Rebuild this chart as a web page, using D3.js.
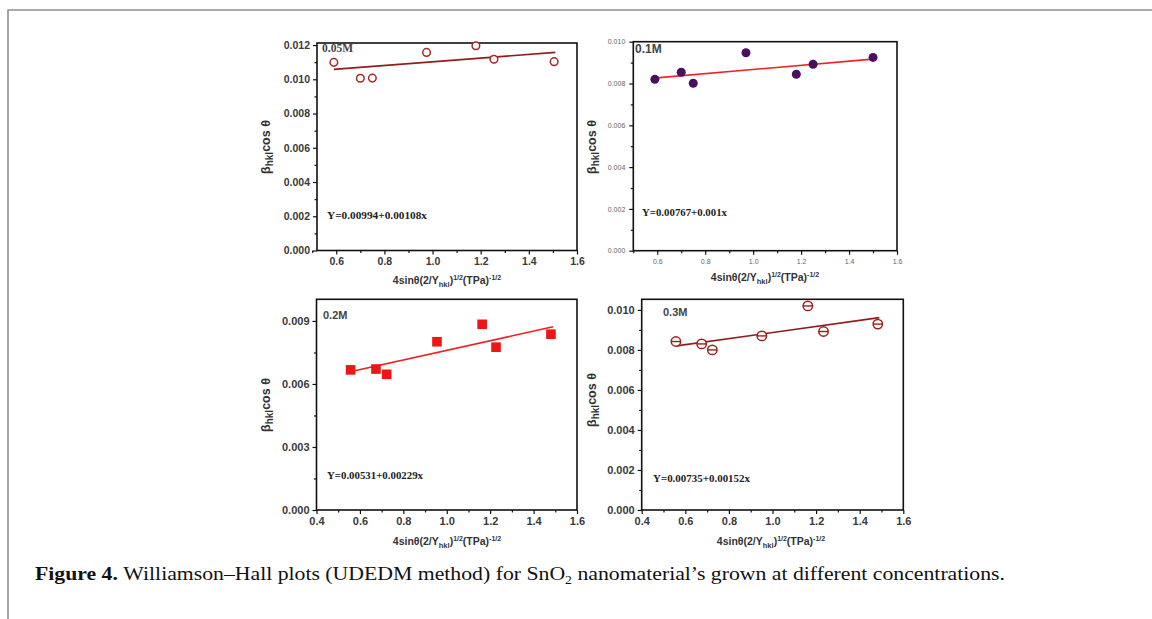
<!DOCTYPE html>
<html>
<head>
<meta charset="utf-8">
<script src="https://cdn.jsdelivr.net/npm/d3@7"></script>
<style>
  body { margin: 0; background: #fff; }
  svg { display: block; }
</style>
</head>
<body>
<script>
// Williamson-Hall plots, four concentrations

const concLabels = ["0.05M", "0.1M", "0.2M", "0.3M"];

// 0.05M - open circles
const x005 = [0.59, 0.70, 0.75, 0.975, 1.18, 1.255, 1.505];
const y005 = [0.01099, 0.01006, 0.01007, 0.01157, 0.01196, 0.01117, 0.01103];
// 0.1M - filled circles
const x01 = [0.59, 0.70, 0.75, 0.97, 1.18, 1.25, 1.50];
const y01 = [0.0082, 0.00854, 0.00801, 0.00947, 0.00844, 0.00892, 0.00925];
// 0.2M - squares
const x02 = [0.557, 0.674, 0.723, 0.955, 1.163, 1.227, 1.48];
const y02 = [0.00667, 0.00671, 0.00646, 0.00801, 0.00884, 0.00775, 0.00837];
// 0.3M - circles with bar
const x03 = [0.557, 0.675, 0.724, 0.951, 1.162, 1.234, 1.483];
const y03 = [0.00842, 0.0083, 0.0080, 0.0087, 0.0102, 0.00892, 0.00929];

const fitIntercepts = [0.00994, 0.00767, 0.00531, 0.00735];
const fitSlopes = [0.00108, 0.001, 0.00229, 0.00152];
const fitEquations = ["Y=0.00994+0.00108x", "Y=0.00767+0.001x", "Y=0.00531+0.00229x", "Y=0.00735+0.00152x"];

const xTicksTop = [0.6, 0.8, 1.0, 1.2, 1.4, 1.6];
const xTicksBottom = [0.4, 0.6, 0.8, 1.0, 1.2, 1.4, 1.6];
const yTicks005 = [0, 0.002, 0.004, 0.006, 0.008, 0.010, 0.012];
const yTicks01 = [0, 0.002, 0.004, 0.006, 0.008, 0.010];
const yTicks02 = [0, 0.003, 0.006, 0.009];
const yTicks03 = [0, 0.002, 0.004, 0.006, 0.008, 0.010];

const svg = d3.select("body").append("svg")
  .attr("width", 1152)
  .attr("height", 619);

// page frame (top + left rule)
svg.append("path")
  .attr("d", "M8,619 L8,10 L1152,10")
  .attr("fill", "none")
  .attr("stroke", "#8f8f8f")
  .attr("stroke-width", 1.6);

const midpoints = (arr) => d3.pairs(arr).map(([a, b]) => (a + b) / 2);

const drawPanel = (p) => {
  const x = d3.scaleLinear().domain(p.xDomain).range([p.left, p.right]);
  const y = d3.scaleLinear().domain(p.yDomain).range([p.bottom, p.top]);
  const g = svg.append("g");

  // minor ticks first
  const xMinor = midpoints(p.xTicks).concat(p.xDomain[0] < p.xTicks[0] - 0.05 ? [p.xTicks[0] - 0.1] : []);
  g.append("g")
    .attr("transform", `translate(0,${p.bottom})`)
    .call(d3.axisBottom(x).tickValues(xMinor).tickSize(2.5).tickSizeOuter(0).tickFormat(""))
    .call(a => a.select(".domain").remove());
  g.append("g")
    .attr("transform", `translate(${p.left},0)`)
    .call(d3.axisLeft(y).tickValues(midpoints(p.yTicks)).tickSize(2.5).tickSizeOuter(0).tickFormat(""))
    .call(a => a.select(".domain").remove());

  const xAxis = g.append("g")
    .attr("transform", `translate(0,${p.bottom})`)
    .call(d3.axisBottom(x).tickValues(p.xTicks).tickSize(4).tickSizeOuter(0).tickPadding(p.tickPad).tickFormat(d3.format(".1f")));
  const yAxis = g.append("g")
    .attr("transform", `translate(${p.left},0)`)
    .call(d3.axisLeft(y).tickValues(p.yTicks).tickSize(4).tickSizeOuter(0).tickPadding(p.tickPad).tickFormat(d3.format(".3f")));
  [xAxis, yAxis].forEach(a => {
    a.select(".domain").remove();
    a.selectAll("text")
      .style("font-family", "Arial, 'Liberation Sans', sans-serif")
      .style("font-size", p.tickFont + "px")
      .style("font-weight", p.tickWeight)
      .attr("fill", p.tickColor);
  });
  g.selectAll(".tick line").attr("stroke", "#111").attr("stroke-width", 1.2);

  // plot frame
  g.append("rect")
    .attr("x", p.left).attr("y", p.top)
    .attr("width", p.right - p.left).attr("height", p.bottom - p.top)
    .attr("fill", "none").attr("stroke", "#111").attr("stroke-width", 1.6);

  // fit line
  const fx = p.fitRange;
  g.append("line")
    .attr("x1", x(fx[0])).attr("y1", y(p.b + p.m * fx[0]))
    .attr("x2", x(fx[1])).attr("y2", y(p.b + p.m * fx[1]))
    .attr("stroke", p.lineColor).attr("stroke-width", 1.6);

  // markers
  const pts = p.xs.map((v, i) => ({ x: v, y: p.ys[i] }));
  const m = g.selectAll(".pt").data(pts).join("g")
    .attr("class", "pt")
    .attr("transform", d => `translate(${x(d.x)},${y(d.y)})`);
  if (p.marker === "open") {
    m.append("circle").attr("r", 3.8).attr("fill", "#fff").attr("stroke", p.markColor).attr("stroke-width", 1.5);
  } else if (p.marker === "filled") {
    m.append("circle").attr("r", 4.5).attr("fill", p.markColor);
  } else if (p.marker === "square") {
    m.append("rect").attr("x", -4.8).attr("y", -4.8).attr("width", 9.6).attr("height", 9.6).attr("fill", p.markColor);
  } else {
    m.append("circle").attr("r", 4.7).attr("fill", "#fff").attr("stroke", p.markColor).attr("stroke-width", 1.5);
    m.append("line").attr("x1", -4.7).attr("x2", 4.7).attr("y1", 0).attr("y2", 0).attr("stroke", p.markColor).attr("stroke-width", 1.4);
  }

  // concentration label
  g.append("text")
    .attr("x", p.tagPos[0]).attr("y", p.tagPos[1])
    .style("font-family", p.tagSerif ? "'Liberation Serif', serif" : "Arial, 'Liberation Sans', sans-serif")
    .style("font-size", p.tagFont + "px")
    .style("font-weight", "bold")
    .attr("fill", "#444")
    .text(p.tag);

  // equation
  g.append("text")
    .attr("x", p.eqPos[0]).attr("y", p.eqPos[1])
    .attr("textLength", p.eqWidth)
    .attr("lengthAdjust", "spacingAndGlyphs")
    .style("font-family", "'Liberation Serif', serif")
    .style("font-size", "10.5px")
    .style("font-weight", "bold")
    .attr("fill", "#222")
    .text(p.eq);

  // y title
  const yt = g.append("text")
    .attr("transform", `translate(${p.yTitle[0]},${p.yTitle[1]}) rotate(-90)`)
    .attr("text-anchor", "middle")
    .style("font-family", "Arial, 'Liberation Sans', sans-serif")
    .style("font-size", "12.5px")
    .style("font-weight", "bold")
    .attr("fill", "#333");
  yt.append("tspan").text("β");
  yt.append("tspan").attr("dy", 3).style("font-size", "10px").text("hkl");
  yt.append("tspan").attr("dy", -3).text("cos θ");

  // x title
  const xt = g.append("text")
    .attr("x", p.xTitle[0]).attr("y", p.xTitle[1])
    .attr("text-anchor", "middle")
    .style("font-family", "Arial, 'Liberation Sans', sans-serif")
    .style("font-size", "10.5px")
    .style("font-weight", "bold")
    .attr("fill", "#333");
  xt.append("tspan").text("4sinθ(2/Y");
  xt.append("tspan").attr("dy", 2.5).style("font-size", "7.5px").text("hkl");
  xt.append("tspan").attr("dy", -2.5).text(")");
  xt.append("tspan").attr("dy", -4).style("font-size", "7px").text("1/2");
  xt.append("tspan").attr("dy", 4).text("(TPa)");
  xt.append("tspan").attr("dy", -4).style("font-size", "7px").text("-1/2");
};

drawPanel({
  left: 317, right: 577, top: 43, bottom: 250.5,
  xDomain: [0.52, 1.6], yDomain: [0, 0.01212],
  xTicks: xTicksTop, yTicks: yTicks005,
  xs: x005, ys: y005, marker: "open", markColor: "#a3282a", lineColor: "#8f1d1d",
  b: fitIntercepts[0], m: fitSlopes[0], fitRange: [0.59, 1.51],
  tag: concLabels[0], tagSerif: true, tagFont: 11.5, tagPos: [322, 52],
  eq: fitEquations[0], eqPos: [327, 219], eqWidth: 100,
  yTitle: [270, 147], xTitle: [447, 284],
  tickFont: 10.5, tickWeight: "bold", tickColor: "#3a3a3a", tickPad: 3
});

drawPanel({
  left: 633.3, right: 897, top: 41.7, bottom: 250.7,
  xDomain: [0.5, 1.6], yDomain: [0, 0.010],
  xTicks: xTicksTop, yTicks: yTicks01,
  xs: x01, ys: y01, marker: "filled", markColor: "#4a1060", lineColor: "#ee2222",
  b: fitIntercepts[1], m: fitSlopes[1], fitRange: [0.585, 1.51],
  tag: concLabels[1], tagSerif: false, tagFont: 12, tagPos: [635, 53],
  eq: fitEquations[1], eqPos: [642, 216], eqWidth: 85,
  yTitle: [596, 147], xTitle: [765, 281],
  tickFont: 7, tickWeight: "normal", tickColor: "#666", tickPad: 4
});

drawPanel({
  left: 316.5, right: 577, top: 299.3, bottom: 510,
  xDomain: [0.4, 1.6], yDomain: [0, 0.01003],
  xTicks: xTicksBottom, yTicks: yTicks02,
  xs: x02, ys: y02, marker: "square", markColor: "#ee1515", lineColor: "#ee1f1f",
  b: fitIntercepts[2], m: fitSlopes[2], fitRange: [0.56, 1.49],
  tag: concLabels[2], tagSerif: false, tagFont: 11, tagPos: [323, 319],
  eq: fitEquations[2], eqPos: [327, 479], eqWidth: 96,
  yTitle: [270, 405], xTitle: [447, 545],
  tickFont: 11, tickWeight: "bold", tickColor: "#3a3a3a", tickPad: 3
});

drawPanel({
  left: 641.7, right: 903.3, top: 299.3, bottom: 510,
  xDomain: [0.4, 1.6], yDomain: [0, 0.01053],
  xTicks: xTicksBottom, yTicks: yTicks03,
  xs: x03, ys: y03, marker: "bar", markColor: "#a01e1e", lineColor: "#8f1d1d",
  b: fitIntercepts[3], m: fitSlopes[3], fitRange: [0.56, 1.49],
  tag: concLabels[3], tagSerif: false, tagFont: 11, tagPos: [663, 316],
  eq: fitEquations[3], eqPos: [653, 482], eqWidth: 97,
  yTitle: [596, 400], xTitle: [771, 545],
  tickFont: 11, tickWeight: "bold", tickColor: "#3a3a3a", tickPad: 3
});

// caption
const cap = svg.append("text")
  .attr("x", 35).attr("y", 580)
  .attr("textLength", 970)
  .attr("lengthAdjust", "spacingAndGlyphs")
  .style("font-family", "'Liberation Serif', 'DejaVu Serif', serif")
  .style("font-size", "19px")
  .attr("fill", "#111");
cap.append("tspan").style("font-weight", "bold").text("Figure 4. ");
cap.append("tspan").text("Williamson–Hall plots (UDEDM method) for SnO");
cap.append("tspan").attr("dy", 4).style("font-size", "12px").text("2");
cap.append("tspan").attr("dy", -4).text(" nanomaterial’s grown at different concentrations.");
</script>
</body>
</html>
